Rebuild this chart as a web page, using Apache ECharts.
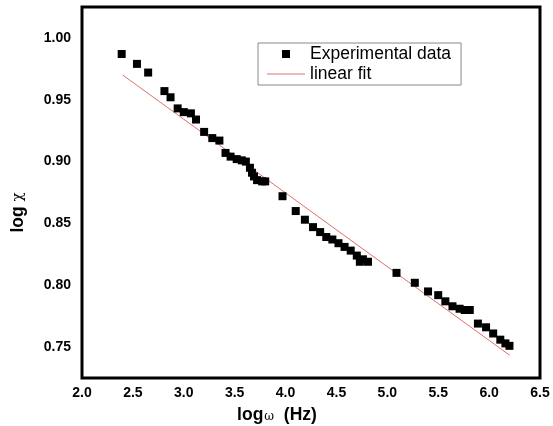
<!doctype html>
<html>
<head>
<meta charset="UTF-8">
<title>log chi vs log omega</title>
<script src="https://cdn.jsdelivr.net/npm/echarts@6/dist/echarts.min.js"></script>
<style>
  html, body { margin: 0; padding: 0; background: #fff; }
  #chart { width: 553px; height: 426px; }
</style>
</head>
<body>
<div id="chart"></div>
<script>
// measured points (log omega, log chi)
var logW = [2.39, 2.54, 2.65, 2.81, 2.87, 2.94, 3.00, 3.07, 3.12, 3.20, 3.28, 3.35, 3.41, 3.46,
  3.52, 3.57, 3.61, 3.65, 3.67, 3.69, 3.72, 3.77, 3.80, 3.97, 4.10, 4.19, 4.27, 4.34, 4.40,
  4.46, 4.52, 4.58, 4.64, 4.70, 4.73, 4.76, 4.81, 5.09, 5.27, 5.40, 5.50, 5.57, 5.64, 5.71,
  5.76, 5.81, 5.89, 5.97, 6.04, 6.11, 6.16, 6.20];
var logChi = [0.987, 0.979, 0.972, 0.957, 0.952, 0.943, 0.940, 0.939, 0.934, 0.924, 0.919, 0.917,
  0.907, 0.904, 0.902, 0.901, 0.900, 0.895, 0.891, 0.888, 0.885, 0.884, 0.884, 0.872, 0.860,
  0.853, 0.847, 0.843, 0.839, 0.837, 0.834, 0.831, 0.828, 0.824, 0.819, 0.821, 0.819, 0.810,
  0.802, 0.795, 0.792, 0.787, 0.783, 0.781, 0.780, 0.780, 0.769, 0.766, 0.761, 0.756, 0.753, 0.751];

// linear fit end points
var fitW = [2.40, 6.20];
var fitChi = [0.970, 0.7435];

var yTicks = [0.75, 0.80, 0.85, 0.90, 0.95, 1.00];

var expData = [];
for (var i = 0; i < logW.length; i++) {
  expData.push([logW[i], logChi[i]]);
}
var fitData = [];
for (var j = 0; j < fitW.length; j++) {
  fitData.push([fitW[j], fitChi[j]]);
}

var font = '"Liberation Sans", Arial, sans-serif';

var option = {
  animation: false,
  backgroundColor: '#fff',
  grid: {
    left: 82, right: 13, top: 7, bottom: 48,
    outerBoundsMode: 'none',
    show: true,
    borderColor: '#000',
    borderWidth: 3
  },
  legend: {
    orient: 'vertical',
    left: 258,
    top: 43,
    padding: [2, 10, 2, 9],
    itemGap: 2,
    itemWidth: 38,
    itemHeight: 8,
    borderColor: '#888',
    borderWidth: 1,
    textStyle: { fontFamily: font, fontSize: 17.5, color: '#000' },
    data: [
      // invisible move-tos keep the full 38x8 box so the square stays small and centred
      { name: 'Experimental data', icon: 'path://M0,0M38,8M15,0h8v8h-8z' },
      { name: 'linear fit', icon: 'path://M0,3.5h38v1h-38z' }
    ]
  },
  xAxis: {
    type: 'value',
    min: 2.0,
    max: 6.5,
    interval: 0.5,
    axisLine: { show: false },
    axisTick: { show: false },
    splitLine: { show: false },
    axisLabel: {
      margin: 8,
      fontFamily: font,
      fontWeight: 'bold',
      fontSize: 14,
      color: '#000',
      formatter: function (v) { return v.toFixed(1); }
    },
    name: '{a|log}{w|ω}{a|  (Hz)}',
    nameLocation: 'middle',
    nameGap: 28,
    nameTextStyle: {
      padding: [0, 68, 0, 0],
      rich: {
        a: { fontFamily: font, fontWeight: 'bold', fontSize: 17.5, color: '#000' },
        w: { fontFamily: '"DejaVu Serif", serif', fontSize: 12, color: '#000', padding: [4, 0, 0, 1] }
      }
    }
  },
  yAxis: {
    type: 'value',
    min: 0.725,
    max: 1.025,
    axisLine: { show: false },
    axisTick: { show: false },
    splitLine: { show: false },
    axisLabel: {
      customValues: yTicks,
      margin: 11,
      fontFamily: font,
      fontWeight: 'bold',
      fontSize: 14,
      color: '#000',
      formatter: function (v) { return v.toFixed(2); }
    },
    name: '{a|log }{c|χ}',
    nameLocation: 'middle',
    nameGap: 55,
    nameTextStyle: {
      padding: [0, 40, 0, 0],
      rich: {
        a: { fontFamily: font, fontWeight: 'bold', fontSize: 17.5, color: '#000' },
        c: { fontFamily: '"DejaVu Serif", serif', fontSize: 15, color: '#000' }
      }
    }
  },
  series: [
    {
      name: 'Experimental data',
      type: 'scatter',
      symbol: 'rect',
      symbolSize: 8,
      itemStyle: { color: '#000', opacity: 1 },
      data: expData,
      z: 3
    },
    {
      name: 'linear fit',
      type: 'line',
      symbol: 'none',
      lineStyle: { color: '#e07070', width: 1 },
      itemStyle: { color: '#e07070' },
      data: fitData,
      z: 2
    }
  ]
};

var chart = echarts.init(document.getElementById('chart'), null, { renderer: 'canvas' });
chart.setOption(option);
</script>
</body>
</html>
